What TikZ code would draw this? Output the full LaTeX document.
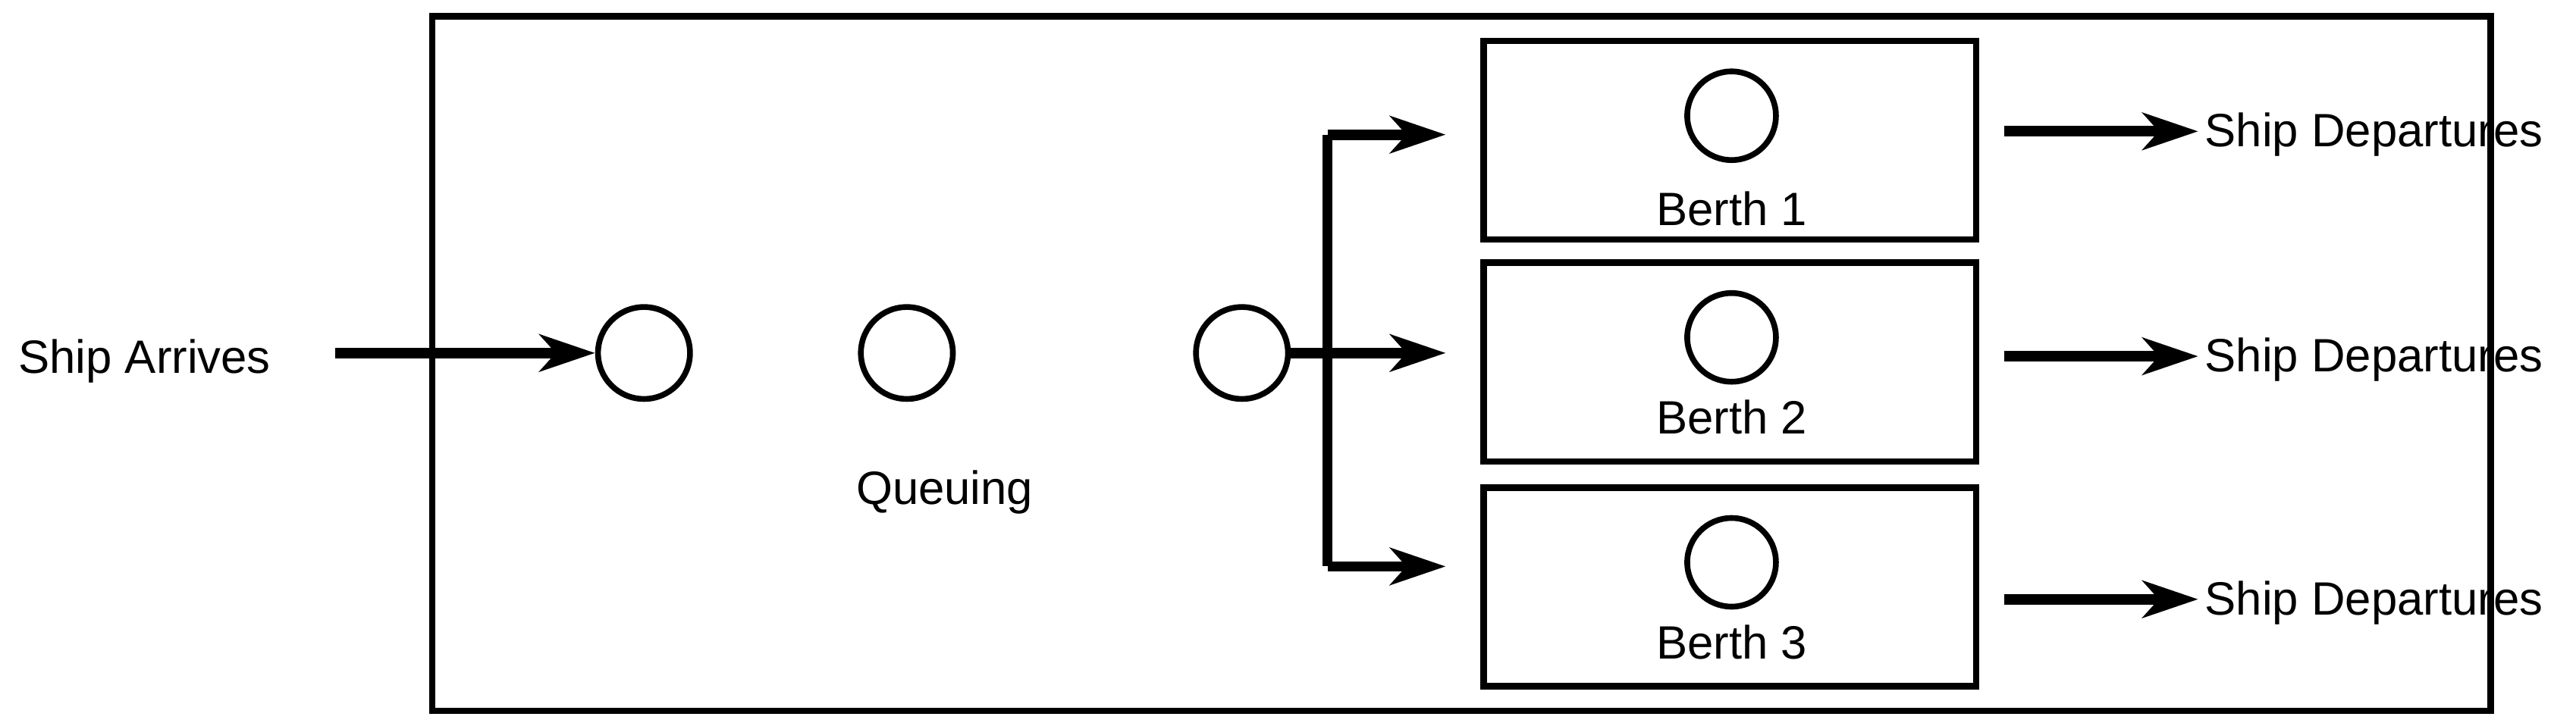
\documentclass[tikz,border=0pt]{standalone}
\usepackage{fontspec}
\setmainfont{Liberation Sans}
\usetikzlibrary{arrows.meta}
\begin{document}
\begin{tikzpicture}[x=0.5mm,y=-0.5mm,
  box/.style={draw,line width=5.5pt},
  circ/.style={draw,circle,line width=5pt,inner sep=0pt},
  arr/.style={line width=9pt,-{Stealth[length=48pt,width=32pt,inset=14pt]}},
  lbl/.style={font=\fontsize{40.5}{46}\selectfont,inner sep=0pt}]
\useasboundingbox (0,0) rectangle (1568,442);
\node[box,minimum width=1253*0.5mm,minimum height=423*0.5mm,inner sep=0pt] (outer) at (889.5,221.5) {};
\foreach \i/\y/\ly in {1/85.5/127,2/220.5/254,3/357.5/391}{
  \node[box,minimum width=300*0.5mm,minimum height=121*0.5mm,inner sep=0pt] (b\i) at (1053,\y) {};
  \node[circ,minimum size=54*0.5mm] (bc\i) at (1054,\y-15) {};
  \node[lbl] (bl\i) at (1054,\ly) {Berth \i};
}
\node[circ,minimum size=56*0.5mm] (q1) at (392,215) {};
\node[circ,minimum size=56*0.5mm] (q2) at (552,215) {};
\node[circ,minimum size=56*0.5mm] (q3) at (756,215) {};
\node[lbl] (ql) at (575,300) {Queuing};
\node[lbl] (arrive) at (88,220) {Ship Arrives};
\coordinate (a0) at (204,215);
\draw[arr] (a0) -- (q1.west);
\coordinate (f0) at (808,215);
\coordinate (ft) at (808,82);
\coordinate (fb) at (808,345);
\draw[line width=9pt] (q3.east) -- (f0);
\draw[line width=9pt] (ft) -- (fb);
\coordinate (e1) at (880,82);
\coordinate (e2) at (880,215);
\coordinate (e3) at (880,345);
\draw[arr] (ft) -- (e1);
\draw[arr] (f0) -- (e2);
\draw[arr] (fb) -- (e3);
\foreach \i/\y in {1/80,2/217,3/365}{
  \coordinate (d\i) at (1220,\y);
  \coordinate (de\i) at (1338,\y);
  \node[lbl,anchor=west] (dt\i) at (1342,\y+2) {Ship Departures};
  \draw[arr] (d\i) -- (de\i);
}
\end{tikzpicture}
\end{document}
